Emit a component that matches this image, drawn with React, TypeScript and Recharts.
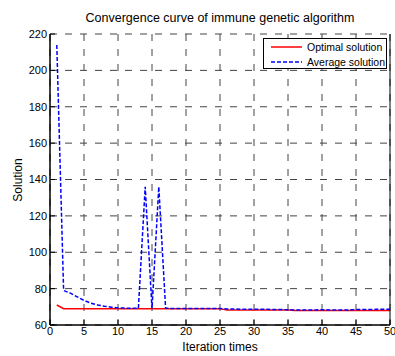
import { LineChart, Line, XAxis, YAxis, CartesianGrid } from 'recharts';

const iterations = Array.from({ length: 50 }, (_, i) => i + 1);

const optimal = [
  71, 69, 69, 69, 69, 69, 69, 69, 69, 69,
  69, 69, 69, 69, 69, 69, 69, 69, 69, 69,
  69, 69, 69, 69, 69, 68.2, 68.2, 68.2, 68.2, 68.2,
  68.2, 68.2, 68.2, 68.2, 68.2, 68, 68, 68, 68, 68,
  68, 68, 68, 68, 68, 68, 68, 68, 68, 68,
];

const average = [
  214, 79, 77.5, 75.5, 73.5, 72, 71, 70.3, 69.8, 69.4,
  69.3, 69.2, 69.2, 136, 69, 136, 69.2, 69.1, 69.1, 69.1,
  69.1, 69.1, 69.1, 69.1, 69.1, 68.8, 68.8, 68.7, 68.7, 68.6,
  68.6, 68.6, 68.5, 68.5, 68.4, 68.3, 68.3, 68.3, 68.3, 68.4,
  68.3, 68.3, 68.3, 68.3, 68.5, 68.5, 68.5, 68.6, 68.6, 68.6,
];

const xTicks = [0, 5, 10, 15, 20, 25, 30, 35, 40, 45, 50];
const yTicks = [60, 80, 100, 120, 140, 160, 180, 200, 220];

const data = iterations.map((it, i) => ({ it, optimal: optimal[i], average: average[i] }));

const font = 'Arial, "Liberation Sans", sans-serif';
const tickStyle = { fontSize: 11, fill: '#000', fontFamily: font };

function LegendBox() {
  const row = (color: string, dash: string | undefined, label: string) => (
    <div style={{ display: 'flex', alignItems: 'center', height: 15, whiteSpace: 'nowrap' }}>
      <svg width={39} height={6} style={{ flex: 'none' }}>
        <line x1={7} y1={3} x2={38} y2={3} stroke={color} strokeWidth={1.5} strokeDasharray={dash} />
      </svg>
      <span style={{ marginLeft: 4 }}>{label}</span>
    </div>
  );
  return (
    <div
      style={{
        position: 'absolute',
        left: 263,
        top: 38,
        width: 124,
        height: 31,
        border: '1px solid #000',
        background: '#fff',
        fontSize: 10.5,
        fontFamily: font,
        color: '#000',
        boxSizing: 'border-box',
      }}
    >
      {row('#ff0000', undefined, 'Optimal solution')}
      {row('#0000ff', '4 2', 'Average solution')}
    </div>
  );
}

export default function App() {
  return (
    <div style={{ position: 'absolute', left: 0, top: 0, width: 395, height: 356, background: '#fff' }}>
      <div
        style={{
          position: 'absolute',
          top: 11,
          left: 50,
          width: 340,
          textAlign: 'center',
          fontSize: 12.5,
          fontFamily: font,
        }}
      >
        Convergence curve of immune genetic algorithm
      </div>
      <div
        style={{
          position: 'absolute',
          top: 340,
          left: 50,
          width: 340,
          textAlign: 'center',
          fontSize: 12,
          fontFamily: font,
        }}
      >
        Iteration times
      </div>
      <div
        style={{
          position: 'absolute',
          left: 18,
          top: 180,
          transform: 'translate(-50%, -50%) rotate(-90deg)',
          fontSize: 12,
          fontFamily: font,
        }}
      >
        Solution
      </div>
      <LineChart
        width={395}
        height={356}
        data={data}
        margin={{ top: 34, right: 0, bottom: 11, left: 10 }}
      >
        <CartesianGrid stroke="#444" strokeDasharray="7 8" />
        <XAxis
          dataKey="it"
          type="number"
          domain={[0, 50]}
          ticks={xTicks}
          height={20}
          tickSize={-5}
          tickMargin={7}
          tick={tickStyle}
          axisLine={{ stroke: '#000', strokeWidth: 1.5 }}
          tickLine={{ stroke: '#000' }}
          interval={0}
        />
        <XAxis
          xAxisId="top"
          orientation="top"
          dataKey="it"
          type="number"
          domain={[0, 50]}
          ticks={xTicks}
          height={0}
          tickSize={-5}
          tick={() => <g />}
          axisLine={{ stroke: '#000', strokeWidth: 1 }}
          tickLine={{ stroke: '#000' }}
          interval={0}
        />
        <YAxis
          type="number"
          domain={[60, 220]}
          ticks={yTicks}
          width={40}
          tickSize={-5}
          tickMargin={8}
          tick={tickStyle}
          axisLine={{ stroke: '#000', strokeWidth: 1.5 }}
          tickLine={{ stroke: '#000' }}
          interval={0}
        />
        <YAxis
          yAxisId="right"
          orientation="right"
          type="number"
          domain={[60, 220]}
          ticks={yTicks}
          width={5}
          tickSize={-5}
          tick={() => <g />}
          axisLine={{ stroke: '#000', strokeWidth: 1 }}
          tickLine={{ stroke: '#000' }}
          interval={0}
        />
        <Line
          dataKey="optimal"
          stroke="#ff0000"
          strokeWidth={1.5}
          dot={false}
          isAnimationActive={false}
          type="linear"
        />
        <Line
          dataKey="average"
          stroke="#0000ff"
          strokeWidth={1.5}
          strokeDasharray="4 2"
          dot={false}
          isAnimationActive={false}
          type="linear"
        />
      </LineChart>
      <LegendBox />
    </div>
  );
}
